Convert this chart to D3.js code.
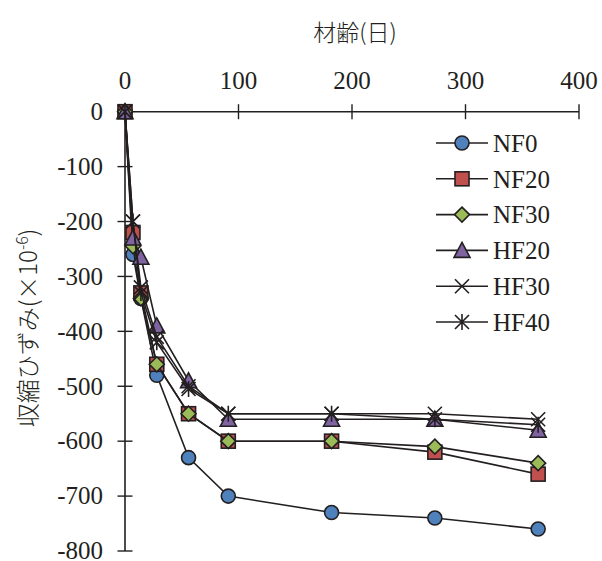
<!DOCTYPE html>
<html><head><meta charset="utf-8">
<script src="https://cdn.jsdelivr.net/npm/d3@7"></script>
<style>body{margin:0;background:#fff}svg{display:block}</style>
</head><body>
<script>
const days = [0, 7, 14, 28, 56, 91, 182, 273, 364];
const NF0  = [0, -260, -340, -480, -630, -700, -730, -740, -760];
const NF20 = [0, -220, -330, -460, -550, -600, -600, -620, -660];
const NF30 = [0, -245, -340, -460, -550, -600, -600, -610, -640];
const HF20 = [0, -230, -265, -390, -490, -560, -560, -560, -580];
const HF30 = [0, -200, -320, -410, -500, -550, -550, -550, -560];
const HF40 = [0, -200, -330, -420, -505, -550, -550, -560, -570];
const seriesNames = ["NF0", "NF20", "NF30", "HF20", "HF30", "HF40"];
const seriesData = [NF0, NF20, NF30, HF20, HF30, HF40];
const markerTypes = ["circle", "square", "diamond", "triangle", "x", "star"];
const colors = ["#4F81BD", "#C0504D", "#9BBB59", "#8064A2", "none", "none"];
const xTicks = [0, 100, 200, 300, 400];
const yTicks = [0, -100, -200, -300, -400, -500, -600, -700, -800];

const W = 602, H = 561;
const svg = d3.select("body").append("svg").attr("width", W).attr("height", H);
const x = d3.scaleLinear().domain([0, 400]).range([125, 579]);
const y = d3.scaleLinear().domain([0, -800]).range([111.7, 551]);
const FONT = "'Liberation Serif','Times New Roman',serif";
const ink = "#231f20";

// axes
svg.append("line").attr("x1", x(0)).attr("x2", x(400)).attr("y1", y(0)).attr("y2", y(0))
  .attr("stroke", ink).attr("stroke-width", 1.6);
svg.append("line").attr("x1", x(0)).attr("x2", x(0)).attr("y1", y(0)).attr("y2", y(-800))
  .attr("stroke", ink).attr("stroke-width", 1.6);
xTicks.forEach(t => {
  if (t > 0) svg.append("line").attr("x1", x(t)).attr("x2", x(t)).attr("y1", y(0) - 7.5).attr("y2", y(0) + 7.5)
    .attr("stroke", ink).attr("stroke-width", 1.4);
  svg.append("text").attr("x", x(t)).attr("y", 89).attr("text-anchor", "middle")
    .attr("font-family", FONT).attr("font-size", 25).attr("fill", ink).text(t);
});
yTicks.forEach(t => {
  if (t < 0) svg.append("line").attr("x1", x(0) - 7.5).attr("x2", x(0) + 7.5).attr("y1", y(t)).attr("y2", y(t))
    .attr("stroke", ink).attr("stroke-width", 1.4);
  svg.append("text").attr("x", 103).attr("y", y(t)).attr("dy", "0.33em").attr("text-anchor", "end")
    .attr("font-family", FONT).attr("font-size", 25).attr("fill", ink).text(t === 0 ? "0" : "-" + Math.abs(t));
});

// titles
svg.append("text").attr("x", 355).attr("y", 41).attr("text-anchor", "middle")
  .attr("font-family", "'Noto Sans CJK JP',sans-serif").attr("font-size", 23).attr("fill", ink)
  .attr("font-weight", 300).text("材齢(日)");
const yl = svg.append("text").attr("transform", "translate(37,328) rotate(-90)").attr("text-anchor", "middle")
  .attr("font-family", "'Noto Sans CJK JP',sans-serif").attr("font-size", 24).attr("fill", ink).attr("font-weight", 300);
yl.append("tspan").text("収縮ひずみ(×10");
yl.append("tspan").attr("dy", -9).attr("font-size", 16).text("-6");
yl.append("tspan").attr("dy", 9).text(")");

function drawMarker(g, type, cx, cy, color) {
  const s = 7;
  if (type === "circle") g.append("circle").attr("cx", cx).attr("cy", cy).attr("r", s)
    .attr("fill", color).attr("stroke", ink).attr("stroke-width", 1.6);
  else if (type === "square") g.append("rect").attr("x", cx - s).attr("y", cy - s).attr("width", 2 * s).attr("height", 2 * s)
    .attr("fill", color).attr("stroke", ink).attr("stroke-width", 1.6);
  else if (type === "diamond") g.append("path")
    .attr("d", `M${cx},${cy - 7.5}L${cx + 7.5},${cy}L${cx},${cy + 7.5}L${cx - 7.5},${cy}Z`)
    .attr("fill", color).attr("stroke", ink).attr("stroke-width", 1.6);
  else if (type === "triangle") g.append("path")
    .attr("d", `M${cx},${cy - 8}L${cx + 8},${cy + 7}L${cx - 8},${cy + 7}Z`)
    .attr("fill", color).attr("stroke", ink).attr("stroke-width", 1.6);
  else if (type === "x") g.append("path")
    .attr("d", `M${cx - s},${cy - s}L${cx + s},${cy + s}M${cx + s},${cy - s}L${cx - s},${cy + s}`)
    .attr("stroke", ink).attr("stroke-width", 1.6).attr("fill", "none");
  else if (type === "star") g.append("path")
    .attr("d", `M${cx - s},${cy - s}L${cx + s},${cy + s}M${cx + s},${cy - s}L${cx - s},${cy + s}M${cx},${cy - s - 1}L${cx},${cy + s + 1}`)
    .attr("stroke", ink).attr("stroke-width", 1.6).attr("fill", "none");
}

const line = d3.line().x(d => x(d[0])).y(d => y(d[1]));
seriesData.forEach((vals, i) => {
  const pts = days.map((d, j) => [d, vals[j]]);
  const g = svg.append("g");
  g.append("path").datum(pts).attr("d", line).attr("fill", "none").attr("stroke", ink).attr("stroke-width", 1.6);
  pts.forEach(p => drawMarker(g, markerTypes[i], x(p[0]), y(p[1]), colors[i]));
});

// legend
seriesNames.forEach((n, i) => {
  const ly = 143 + i * 35.8;
  const g = svg.append("g");
  g.append("line").attr("x1", 436).attr("x2", 488).attr("y1", ly).attr("y2", ly).attr("stroke", ink).attr("stroke-width", 1.6);
  drawMarker(g, markerTypes[i], 462, ly, colors[i]);
  g.append("text").attr("x", 493).attr("y", ly).attr("dy", "0.35em").attr("font-family", FONT)
    .attr("font-size", 25).attr("fill", ink).text(n);
});
</script>
</body></html>
